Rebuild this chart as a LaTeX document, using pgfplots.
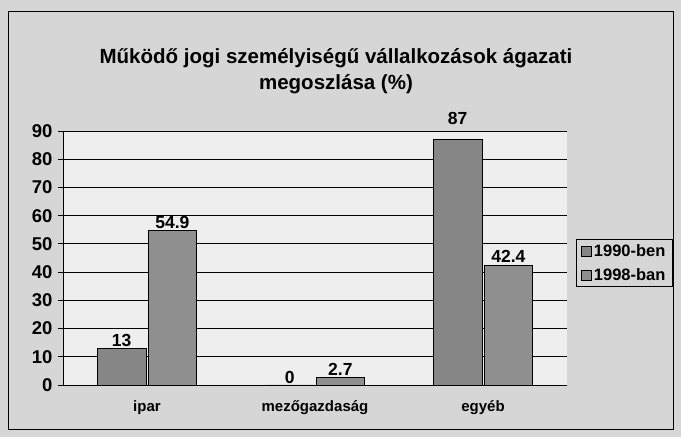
\documentclass[border=0pt]{standalone}
\usepackage{pgfplots}
\pgfplotsset{compat=1.18}
\usepackage{pgfplotstable}
\usepackage{fontspec}
\setmainfont{Liberation Sans}
\definecolor{outerbg}{HTML}{D6D6D6}
\definecolor{plotbg}{HTML}{EEEEEE}
\definecolor{barA}{HTML}{868686}
\definecolor{barB}{HTML}{8F8F8F}
\pgfplotstableread{
x y off
0.5 13 -2
1.5 0 -2
2.5 87 11
}\dataA
\pgfplotstableread{
x y off
0.5 54.9 -2
1.5 2.7 -2
2.5 42.4 -1
}\dataB
\begin{document}
\begin{tikzpicture}[x=1pt,y=1pt]
\fill[outerbg] (0,0) rectangle (681,437);
\draw[black,line width=1pt] (8,7) rectangle (673,425);
\node[font=\bfseries\fontsize{20.5}{26}\selectfont,align=center] at (336,366) {Működő jogi személyiségű vállalkozások ágazati\\megoszlása (\%)};
\begin{axis}[
  at={(63pt,52pt)}, anchor=origin,
  scale only axis, width=504pt, height=254pt,
  xmin=0, xmax=3, ymin=0, ymax=90,
  axis background/.style={fill=plotbg},
  ybar, bar width=0.29, bar shift auto,
  ytick={0,10,...,90},
  ymajorgrids, grid style={black, line width=0.8pt},
  axis x line*=bottom, axis y line*=left,
  axis line style={black, line width=0.9pt},
  tick align=outside,
  major tick length=5pt,
  tick style={black, line width=0.8pt},
  xtick={0.5,1.5,2.5},
  xticklabels={ipar,mezőgazdaság,egyéb},
  x tick style={draw=none},
  minor xtick={1,2,3},
  minor tick length=5pt,
  minor x tick style={black, line width=0.8pt},
  /pgf/number format/assume math mode=true,
  yticklabel style={font=\bfseries\fontsize{18.5}{20}\selectfont, xshift=-2pt},
  xticklabel style={font=\bfseries\fontsize{15}{18}\selectfont, yshift=-7pt},
  visualization depends on={\thisrow{off} \as \off},
  nodes near coords,
  every node near coord/.append style={font=\bfseries\fontsize{17.5}{20}\selectfont, yshift=\off pt},
  legend style={at={(576pt-63pt,150pt-52pt)}, anchor=south west, draw=black, line width=0.8pt, fill=outerbg, font=\bfseries\fontsize{16.5}{19}\selectfont, inner xsep=5pt, inner ysep=3pt, row sep=6pt, legend cell align=left},
  legend image code/.code={\draw[#1, line width=0.5pt] (0pt,-5pt) rectangle (10pt,5pt);},
  clip=false,
]
\addplot[fill=barA, draw=black, line width=0.6pt] table[x=x,y=y] {\dataA};
\addplot[fill=barB, draw=black, line width=0.6pt] table[x=x,y=y] {\dataB};
\legend{1990-ben,1998-ban}
\end{axis}
\end{tikzpicture}
\end{document}
